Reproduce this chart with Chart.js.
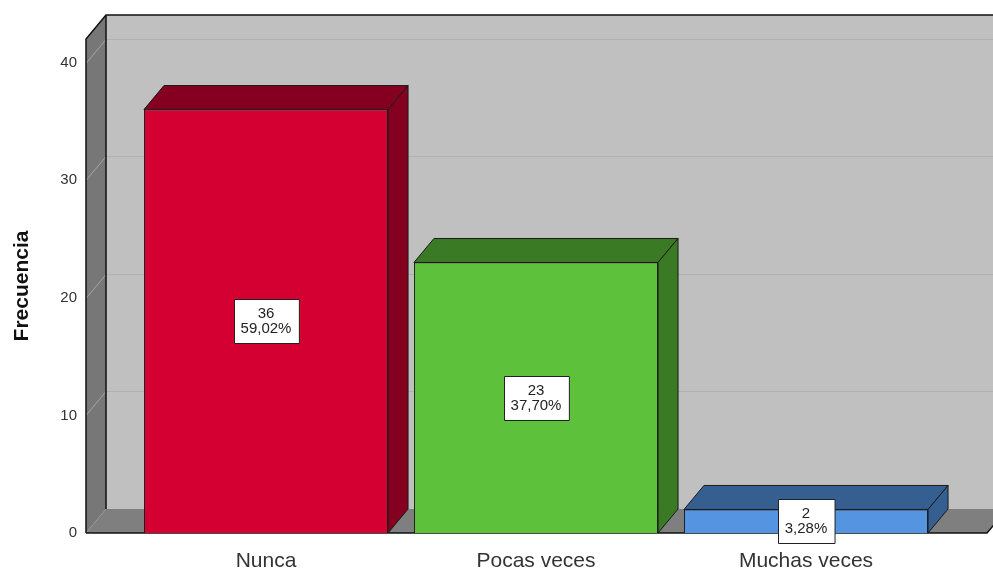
<!DOCTYPE html>
<html>
<head>
<meta charset="utf-8">
<script src="https://cdn.jsdelivr.net/npm/chart.js@4.4.1/dist/chart.umd.min.js"></script>
<style>
  body { margin: 0; background: #fff; }
  #wrap { width: 993px; height: 570px; position: relative; }
</style>
</head>
<body>
<div id="wrap"><canvas id="freqChart"></canvas></div>
<script>
// data
const categories = ["Nunca", "Pocas veces", "Muchas veces"];
const counts = [36, 23, 2];
const percents = ["59,02%", "37,70%", "3,28%"];
const yTicks = [0, 10, 20, 30, 40];

const frontColors = ["#D50032", "#5DC13B", "#5494E0"];
const shadeColors = ["#850020", "#3B7A25", "#355E91"];

const FONT = "'Liberation Sans', Arial, sans-serif";
const DX = 20, DY = -24;   // depth of the 3D box

/* ==========================
   3D walls, bar sides, labels
========================== */
const box3d = {
    id: "box3d",
    beforeDraw(chart) {
        const { ctx, chartArea: a, scales: { y } } = chart;
        const x0 = a.left - 45, x1 = a.right + 46;
        const yb = y.getPixelForValue(0), yt = a.top;

        ctx.save();
        // back wall
        ctx.fillStyle = "#C0C0C0";
        ctx.fillRect(x0 + DX, yt + DY, x1 - x0 + 40, yb - yt);
        // left wall
        ctx.fillStyle = "#777777";
        ctx.beginPath();
        ctx.moveTo(x0, yt); ctx.lineTo(x0 + DX, yt + DY);
        ctx.lineTo(x0 + DX, yb + DY); ctx.lineTo(x0, yb);
        ctx.closePath(); ctx.fill();
        // floor
        ctx.fillStyle = "#7F7F7F";
        ctx.beginPath();
        ctx.moveTo(x0, yb); ctx.lineTo(x0 + DX, yb + DY);
        ctx.lineTo(x1 + DX, yb + DY); ctx.lineTo(x1, yb);
        ctx.closePath(); ctx.fill();

        // grid lines on back wall and left wall
        ctx.lineWidth = 1;
        yTicks.forEach(v => {
            if (v === 0) return;
            const py = Math.round(y.getPixelForValue(v)) + 0.5;
            ctx.strokeStyle = "#B0B0B0";
            ctx.beginPath();
            ctx.moveTo(x0 + DX, py + DY); ctx.lineTo(x1 + DX + 20, py + DY);
            ctx.stroke();
            ctx.strokeStyle = "#A6A6A6";
            ctx.beginPath();
            ctx.moveTo(x0 + DX, py + DY); ctx.lineTo(x0, py);
            ctx.stroke();
        });

        // outlines
        ctx.strokeStyle = "#111";
        ctx.lineWidth = 1.5;
        ctx.beginPath();
        ctx.moveTo(x0, yb); ctx.lineTo(x0, yt); ctx.lineTo(x0 + DX, yt + DY);
        ctx.lineTo(x1 + DX + 20, yt + DY);
        ctx.moveTo(x0 + DX, yt + DY); ctx.lineTo(x0 + DX, yb + DY);
        ctx.moveTo(x0, yb); ctx.lineTo(x1, yb); ctx.lineTo(x1 + DX, yb + DY);
        ctx.stroke();
        ctx.restore();
    },
    afterDatasetsDraw(chart) {
        const { ctx } = chart;
        const bars = chart.getDatasetMeta(0).data;
        ctx.save();
        ctx.lineWidth = 1;
        ctx.strokeStyle = "#1A1A1A";
        ctx.lineJoin = "round";
        bars.forEach((bar, i) => {
            const l = bar.x - bar.width / 2, r = bar.x + bar.width / 2;
            const t = bar.y, b = bar.base;
            ctx.fillStyle = shadeColors[i];
            // top face
            ctx.beginPath();
            ctx.moveTo(l, t); ctx.lineTo(l + DX, t + DY);
            ctx.lineTo(r + DX, t + DY); ctx.lineTo(r, t);
            ctx.closePath(); ctx.fill(); ctx.stroke();
            // right side face
            ctx.beginPath();
            ctx.moveTo(r, t); ctx.lineTo(r + DX, t + DY);
            ctx.lineTo(r + DX, b + DY); ctx.lineTo(r, b);
            ctx.closePath(); ctx.fill(); ctx.stroke();
        });

        // value boxes
        ctx.font = "15px " + FONT;
        ctx.textAlign = "center";
        ctx.textBaseline = "middle";
        bars.forEach((bar, i) => {
            const cx = bar.x, cy = (bar.y + bar.base) / 2;
            const l1 = String(counts[i]), l2 = percents[i];
            const w = Math.max(ctx.measureText(l1).width, ctx.measureText(l2).width) + 14;
            const h = 44;
            const bx = Math.round(cx - w / 2) + 0.5, by = Math.round(cy - h / 2) + 0.5;
            ctx.fillStyle = "#fff";
            ctx.fillRect(bx, by, w, h);
            ctx.strokeStyle = "#222";
            ctx.strokeRect(bx, by, w, h);
            ctx.fillStyle = "#222";
            ctx.fillText(l1, cx, cy - 7);
            ctx.fillText(l2, cx, cy + 8);
        });
        ctx.restore();
    }
};

new Chart(document.getElementById("freqChart"), {
    type: "bar",
    data: {
        labels: categories,
        datasets: [{
            data: counts,
            backgroundColor: frontColors,
            borderColor: "#1A1A1A",
            borderWidth: 1,
            barPercentage: 0.904,
            categoryPercentage: 1
        }]
    },
    options: {
        responsive: true,
        maintainAspectRatio: false,
        animation: false,
        layout: { padding: { left: 0, right: 52, top: 39, bottom: 0 } },
        plugins: {
            legend: { display: false },
            tooltip: { enabled: false }
        },
        scales: {
            x: {
                grid: { display: false },
                border: { display: false },
                ticks: { color: "#333", font: { family: FONT, size: 21 }, padding: 8 },
                afterFit: scale => { scale.height = 37; }
            },
            y: {
                min: 0,
                max: 42,
                grid: { display: false, drawTicks: true, tickLength: 46 },
                border: { display: false },
                afterBuildTicks: scale => { scale.ticks = yTicks.map(v => ({ value: v })); },
                ticks: { color: "#333", font: { family: FONT, size: 15 }, padding: 8 },
                title: {
                    display: true,
                    text: "Frecuencia",
                    color: "#111",
                    font: { family: FONT, size: 21, weight: "bold" },
                    padding: { top: 10, bottom: 0 }
                },
                afterFit: scale => { scale.width = 131; }
            }
        }
    },
    plugins: [box3d]
});
</script>
</body>
</html>
